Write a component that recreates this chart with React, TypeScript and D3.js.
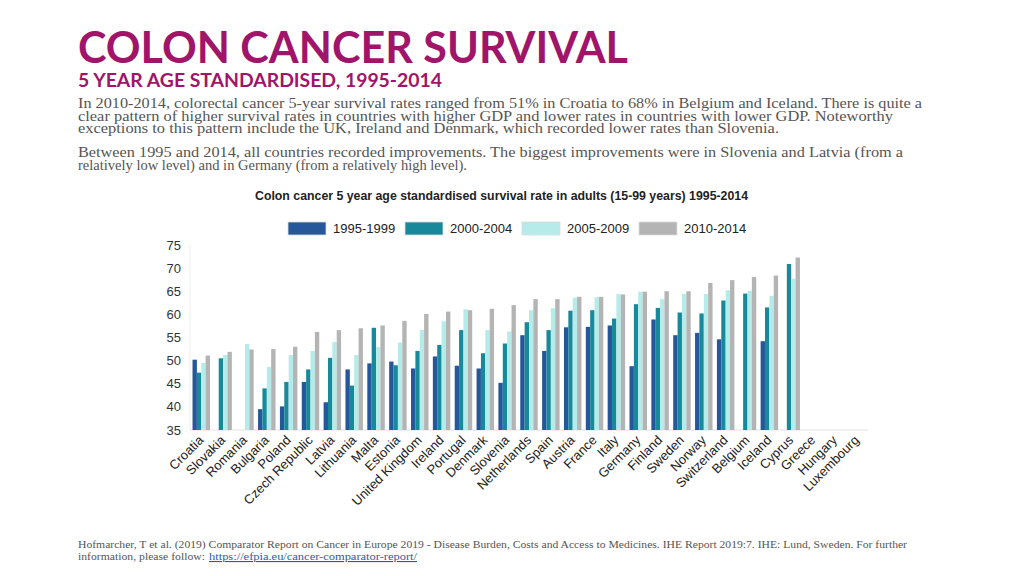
import React from "react";
import * as d3 from "d3";

const countries = ["Croatia","Slovakia","Romania","Bulgaria","Poland","Czech Republic","Latvia","Lithuania","Malta","Estonia","United Kingdom","Ireland","Portugal","Denmark","Slovenia","Netherlands","Spain","Austria","France","Italy","Germany","Finland","Sweden","Norway","Switzerland","Belgium","Iceland","Cyprus","Greece","Hungary","Luxembourg"];

const periods = ["1995-1999","2000-2004","2005-2009","2010-2014"];

const p1995 = [50.2,null,null,39.5,40.1,45.4,41.0,48.1,49.4,49.8,48.3,50.9,48.9,48.3,45.2,55.5,52.1,57.2,57.3,57.6,48.8,58.9,55.5,56.0,54.6,null,54.2,null,null,null,null];
const p2000 = [47.4,50.5,null,44.0,45.4,48.1,50.6,44.6,57.1,49.0,52.1,53.4,56.6,51.6,53.7,58.3,56.6,60.8,60.9,59.1,62.2,61.4,60.4,60.2,63.0,64.5,61.5,70.9,null,null,null];
const p2005 = [49.5,51.2,53.6,48.6,51.2,52.1,54.0,51.2,52.9,53.9,56.6,58.5,61.1,56.6,56.3,60.9,61.3,63.6,63.7,64.4,64.9,63.3,64.4,64.4,65.2,65.1,64.0,67.7,null,null,null];
const p2010 = [51.1,51.9,52.4,52.5,53.0,56.2,56.6,57.0,57.6,58.6,60.1,60.6,60.9,61.2,62.0,63.3,63.3,63.8,63.8,64.3,64.9,65.0,65.0,66.8,67.4,68.1,68.4,72.3,null,null,null];

const yTicks = [35,40,45,50,55,60,65,70,75];

const seriesValues = [p1995, p2000, p2005, p2010];
const colors = ["#25579a", "#17899a", "#b5ebe9", "#b4b4b4"];

const paragraph1 = [
  "In 2010-2014, colorectal cancer 5-year survival rates ranged from 51% in Croatia to 68% in Belgium and Iceland. There is quite a",
  "clear pattern of higher survival rates in countries with higher GDP and lower rates in countries with lower GDP. Noteworthy",
  "exceptions to this pattern include the UK, Ireland and Denmark, which recorded lower rates than Slovenia.",
];
const paragraph2 = [
  "Between 1995 and 2014, all countries recorded improvements. The biggest improvements were in Slovenia and Latvia (from a",
  "relatively low level) and in Germany (from a relatively high level).",
];

export default function App() {
  const x0 = d3.scaleBand<string>().domain(countries).range([190, 868]).paddingInner(0.2).paddingOuter(0.115);
  const x1 = d3.scaleBand<string>().domain(periods).range([0, x0.bandwidth()]).padding(0);
  const y = d3.scaleLinear().domain([35, 75]).range([430, 245]);

  const magenta = "#a0146a";
  const serif = "'Liberation Serif', 'DejaVu Serif', serif";
  const sans = "'Liberation Sans', Arial, Helvetica, sans-serif";

  const p1Len = [844, 815, 701];
  const p2Len = [825, 389];

  const legendX = [288, 405, 522, 639];

  return (
    <svg width={1024} height={576} style={{ position: "absolute", left: 0, top: 0, background: "#fff" }}>
      <text x={78} y={63} fontFamily="Lato, 'Open Sans', sans-serif" fontWeight={700} fontSize={43} fill={magenta} textLength={550} lengthAdjust="spacingAndGlyphs">COLON CANCER SURVIVAL</text>
      <text x={78} y={87} fontFamily="Lato, 'Open Sans', sans-serif" fontWeight={700} fontSize={18} fill={magenta} textLength={364} lengthAdjust="spacingAndGlyphs">5 YEAR AGE STANDARDISED, 1995-2014</text>

      {paragraph1.map((t, i) => (
        <text key={"p1" + i} x={78} y={108 + i * 12.6} fontFamily={serif} fontSize={15} fill="#555" textLength={p1Len[i]} lengthAdjust="spacingAndGlyphs">{t}</text>
      ))}
      {paragraph2.map((t, i) => (
        <text key={"p2" + i} x={78} y={157 + i * 12.6} fontFamily={serif} fontSize={15} fill="#555" textLength={p2Len[i]} lengthAdjust="spacingAndGlyphs">{t}</text>
      ))}

      <text x={255} y={200} fontFamily={sans} fontWeight={700} fontSize={13} fill="#222" textLength={493} lengthAdjust="spacingAndGlyphs">Colon cancer 5 year age standardised survival rate in adults (15-99 years) 1995-2014</text>

      {periods.map((p, i) => (
        <g key={p}>
          <rect x={legendX[i]} y={222} width={38} height={13} fill={colors[i]} stroke="#ddd" strokeWidth={0.8} />
          <text x={legendX[i] + 45} y={233} fontFamily={sans} fontSize={13} fill="#222">{p}</text>
        </g>
      ))}

      {yTicks.map((t) => (
        <text key={t} x={181} y={y(t)} dy="0.35em" textAnchor="end" fontFamily={sans} fontSize={13} fill="#333">{t}</text>
      ))}
      <line x1={190} x2={190} y1={y(75)} y2={y(35)} stroke="#eee" />
      <line x1={190} x2={868} y1={y(35)} y2={y(35)} stroke="#e2e2e2" />

      {countries.map((c, ci) => (
        <g key={c} transform={`translate(${x0(c)},0)`}>
          {periods.map((p, si) => {
            const v = seriesValues[si][ci];
            if (v == null) return null;
            return <rect key={p} x={x1(p)} y={y(v)} width={x1.bandwidth()} height={y(35) - y(v)} fill={colors[si]} />;
          })}
        </g>
      ))}

      {countries.map((c) => {
        const cx = (x0(c) as number) + x0.bandwidth() / 2 + 3;
        return (
          <text key={"l" + c} transform={`translate(${cx},441) rotate(-45)`} textAnchor="end" fontFamily={sans} fontSize={13} fill="#222">{c}</text>
        );
      })}

      <text x={78} y={548} fontFamily={serif} fontSize={11} fill="#555" textLength={829} lengthAdjust="spacingAndGlyphs">Hofmarcher, T et al. (2019) Comparator Report on Cancer in Europe 2019 - Disease Burden, Costs and Access to Medicines. IHE Report 2019:7. IHE: Lund, Sweden. For further</text>
      <text x={78} y={560} fontFamily={serif} fontSize={11} fill="#555" textLength={127} lengthAdjust="spacingAndGlyphs">information, please follow:</text>
      <text x={209} y={560} fontFamily={serif} fontSize={11} fill="#1a5fb4" textDecoration="underline" textLength={208} lengthAdjust="spacingAndGlyphs">https://efpia.eu/cancer-comparator-report/</text>
    </svg>
  );
}
